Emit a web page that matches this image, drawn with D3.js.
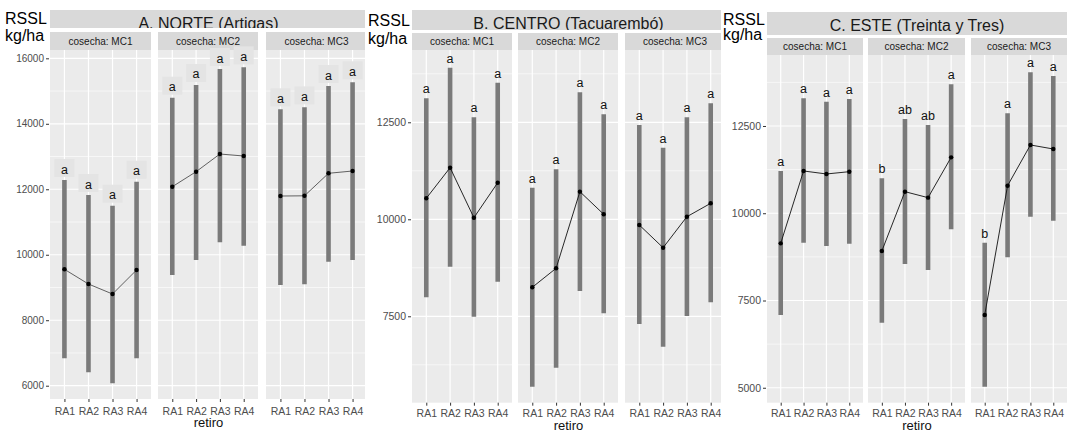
<!DOCTYPE html>
<html><head><meta charset="utf-8">
<script src="https://cdn.jsdelivr.net/npm/d3@7"></script>
<style>body{margin:0;background:#fff}svg{display:block}text{font-family:"Liberation Sans",Arial,sans-serif}</style>
</head><body><svg id="c" width="1067" height="431"></svg>
<script>
const regions = ["A. NORTE (Artigas)", "B. CENTRO (Tacuarembó)", "C. ESTE (Treinta y Tres)"];
const harvests = ["cosecha: MC1", "cosecha: MC2", "cosecha: MC3"];
const retiros = ["RA1", "RA2", "RA3", "RA4"];

// NORTE
const norteMean = [[9555, 9106, 8801, 9534], [12078, 12537, 13077, 13016], [11794, 11800, 12488, 12558]];
const norteLow  = [[6837, 6409, 6073, 6837], [9381, 9839, 10380, 10276], [9076, 9097, 9787, 9839]];
const norteHigh = [[12283, 11825, 11498, 12231], [14797, 15185, 15673, 15725], [14442, 14503, 15154, 15267]];
const norteLetters = [["a","a","a","a"], ["a","a","a","a"], ["a","a","a","a"]];
const norteTicks = [6000, 8000, 10000, 12000, 14000, 16000];

// CENTRO
const centroMean = [[10541, 11330, 10041, 10943], [8247, 8737, 10712, 10129], [9853, 9268, 10067, 10412]];
const centroLow  = [[7990, 8778, 7490, 8392], [5686, 6175, 8152, 7577], [7302, 6716, 7508, 7861]];
const centroHigh = [[13119, 13907, 12629, 13521], [10814, 11289, 13273, 12706], [12430, 11845, 12629, 12990]];
const centroLetters = [["a","a","a","a"], ["a","a","a","a"], ["a","a","a","a"]];
const centroTicks = [7500, 10000, 12500];

// ESTE
const esteMean = [[9138, 11211, 11125, 11191], [8918, 10618, 10447, 11602], [7085, 10790, 11956, 11841]];
const esteLow  = [[7085, 9157, 9062, 9129], [6865, 8546, 8374, 9539], [5030, 8737, 9901, 9787]];
const esteHigh = [[11211, 13293, 13197, 13274], [11000, 12700, 12529, 13695], [9157, 12864, 14039, 13933]];
const esteLetters = [["a","a","a","a"], ["b","ab","ab","a"], ["b","a","a","a"]];
const esteTicks = [5000, 7500, 10000, 12500];

const yLabel1 = "RSSL", yLabel2 = "kg/ha", xLabel = "retiro";

const groups = [
  {title: regions[0], mean: norteMean, low: norteLow, high: norteHigh, letters: norteLetters, ticks: norteTicks,
   clip: [0, 365], panels: [[50,151],[158,258],[266,367]], titleY: [10,28], stripY: [32,50], panelY: [50,399],
   domain: [5594, 16254], yLabX: 5, yLab1Y: 24, yLab2Y: 41, tickFont: 10, tickY: 414.5, retiroY: 427,
   boxed: true, lineColor: "#505050", labOff: 6.5, titleTextY: 28.5},
  {title: regions[1], mean: centroMean, low: centroLow, high: centroHigh, letters: centroLetters, ticks: centroTicks,
   clip: [365, 721], panels: [[412,512],[518,618],[625,725]], titleY: [10,30], stripY: [33,50], panelY: [50,402.7],
   domain: [5273, 14363], yLabX: 368, yLab1Y: 26, yLab2Y: 44, tickFont: 10.5, tickY: 417.5, retiroY: 429.5,
   boxed: false, lineColor: "#111", labOff: 5, titleTextY: 28.5},
  {title: regions[2], mean: esteMean, low: esteLow, high: esteHigh, letters: esteLetters, ticks: esteTicks,
   clip: [721, 1067], panels: [[767,863],[868,965],[971,1067]], titleY: [12,35], stripY: [38,55], panelY: [55,402.7],
   domain: [4572, 14534], yLabX: 723, yLab1Y: 25, yLab2Y: 40, tickFont: 10.5, tickY: 417.5, retiroY: 429.5,
   boxed: false, lineColor: "#111", labOff: 5, titleTextY: 30.5}
];

const svg = d3.select("#c");
const defs = svg.append("defs");

groups.forEach((g, gi) => {
  defs.append("clipPath").attr("id", "clip" + gi).append("rect")
    .attr("x", g.clip[0]).attr("y", 0).attr("width", g.clip[1] - g.clip[0]).attr("height", 431);
  const G = svg.append("g").attr("clip-path", `url(#clip${gi})`);
  G.append("rect").attr("x", g.clip[0]).attr("y", 0).attr("width", g.clip[1] - g.clip[0]).attr("height", 431).attr("fill", "#fff");

  const y = d3.scaleLinear().domain(g.domain).range([g.panelY[1], g.panelY[0]]);
  const left = g.panels[0][0], right = g.panels[2][1];

  // title strip (text clipped to strip)
  defs.append("clipPath").attr("id", "tclip" + gi).append("rect")
    .attr("x", left).attr("y", g.titleY[0]).attr("width", right - left).attr("height", g.titleY[1] - g.titleY[0]);
  const T = G.append("g").attr("clip-path", `url(#tclip${gi})`);
  T.append("rect").attr("x", left).attr("y", g.titleY[0]).attr("width", right - left)
    .attr("height", g.titleY[1] - g.titleY[0]).attr("fill", "#D9D9D9");
  T.append("text").attr("x", (left + right) / 2).attr("y", g.titleTextY).attr("text-anchor", "middle")
    .attr("font-size", 16).attr("fill", "#1a1a1a").text(g.title);

  // y labels
  G.append("text").attr("x", g.yLabX).attr("y", g.yLab1Y).attr("font-size", 16).attr("fill", "#000").text(yLabel1);
  G.append("text").attr("x", g.yLabX).attr("y", g.yLab2Y).attr("font-size", 16).attr("fill", "#000").text(yLabel2);

  // y axis
  const yAxis = d3.axisLeft(y).tickValues(g.ticks).tickSize(3).tickPadding(2).tickFormat(d3.format("d"));
  const ya = G.append("g").attr("transform", `translate(${left - 1},0)`).call(yAxis);
  ya.select(".domain").remove();
  ya.selectAll("line").attr("stroke", "#333");
  ya.selectAll("text").attr("font-size", g.tickFont).attr("fill", "#4D4D4D").attr("font-family", '"Liberation Sans",Arial,sans-serif');

  const step = (g.ticks[1] - g.ticks[0]);
  const minor = [];
  for (let v = g.ticks[0] - step / 2; v < g.domain[1]; v += step) if (v > g.domain[0]) minor.push(v);

  g.panels.forEach((p, pi) => {
    const x = d3.scalePoint().domain(retiros).range([p[0], p[1]]).padding(0.6);
    const P = G.append("g");
    // strip
    P.append("rect").attr("x", p[0]).attr("y", g.stripY[0]).attr("width", p[1] - p[0])
      .attr("height", g.stripY[1] - g.stripY[0]).attr("fill", "#D9D9D9");
    P.append("text").attr("x", (p[0] + p[1]) / 2).attr("y", (g.stripY[0] + g.stripY[1]) / 2 + 3.5)
      .attr("text-anchor", "middle").attr("font-size", 10).attr("fill", "#1a1a1a").text(harvests[pi]);
    // panel
    P.append("rect").attr("x", p[0]).attr("y", g.panelY[0]).attr("width", p[1] - p[0])
      .attr("height", g.panelY[1] - g.panelY[0]).attr("fill", "#EBEBEB");
    P.selectAll(".mn").data(minor).join("line").attr("x1", p[0]).attr("x2", p[1])
      .attr("y1", d => y(d)).attr("y2", d => y(d)).attr("stroke", "#fff").attr("stroke-width", 0.6);
    P.selectAll(".mj").data(g.ticks).join("line").attr("x1", p[0]).attr("x2", p[1])
      .attr("y1", d => y(d)).attr("y2", d => y(d)).attr("stroke", "#fff").attr("stroke-width", 1.2);
    P.selectAll(".vx").data(retiros).join("line").attr("x1", d => x(d)).attr("x2", d => x(d))
      .attr("y1", g.panelY[0]).attr("y2", g.panelY[1]).attr("stroke", "#fff").attr("stroke-width", 1.2);

    const rows = retiros.map((r, i) => ({r, m: g.mean[pi][i], lo: g.low[pi][i], hi: g.high[pi][i], l: g.letters[pi][i]}));
    // bars
    P.selectAll(".bar").data(rows).join("line").attr("x1", d => x(d.r)).attr("x2", d => x(d.r))
      .attr("y1", d => y(d.lo)).attr("y2", d => y(d.hi)).attr("stroke", "#7A7A7A").attr("stroke-width", 4.6);
    // line
    P.append("path").datum(rows).attr("fill", "none").attr("stroke", g.lineColor).attr("stroke-width", 0.9)
      .attr("d", d3.line().x(d => x(d.r)).y(d => y(d.m)));
    P.selectAll(".pt").data(rows).join("circle").attr("cx", d => x(d.r)).attr("cy", d => y(d.m))
      .attr("r", 2.2).attr("fill", "#000");
    // letters
    if (g.boxed) {
      P.selectAll(".bx").data(rows).join("rect").attr("x", d => x(d.r) - 10).attr("y", d => y(d.hi) - 21)
        .attr("width", 20).attr("height", 18).attr("fill", "#E4E4E4");
    }
    P.selectAll(".lt").data(rows).join("text").attr("x", d => x(d.r)).attr("y", d => y(d.hi) - g.labOff)
      .attr("text-anchor", "middle").attr("font-size", 12.5).attr("fill", "#111").text(d => d.l);

    // x axis
    const xa = P.append("g").attr("transform", `translate(0,${g.panelY[1]})`)
      .call(d3.axisBottom(x).tickSize(3).tickPadding(2));
    xa.select(".domain").remove();
    xa.selectAll("line").attr("stroke", "#333");
    xa.selectAll("text").attr("font-size", 10.5).attr("fill", "#4D4D4D")
      .attr("font-family", '"Liberation Sans",Arial,sans-serif').attr("dy", null).attr("y", g.tickY - g.panelY[1]);
  });

  G.append("text").attr("x", (left + right) / 2).attr("y", g.retiroY).attr("text-anchor", "middle")
    .attr("font-size", 13).attr("fill", "#111").text(xLabel);
});
</script></body></html>
